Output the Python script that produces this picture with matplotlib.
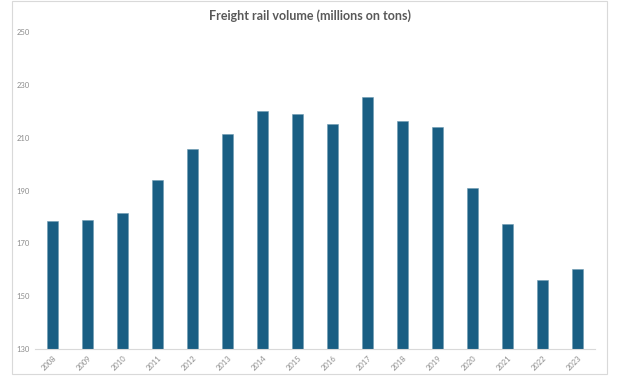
import numpy as np
import matplotlib.pyplot as plt
from matplotlib.patches import Rectangle

years = [str(y) for y in range(2008, 2024)]
volume = [178.5, 178.9, 181.5, 194.0, 205.8, 211.4, 220.2, 219.1,
          215.2, 225.5, 216.4, 214.1, 191.0, 177.3, 156.1, 160.3]
yticks = [130, 150, 170, 190, 210, 230, 250]

plt.rcParams['font.family'] = ['Lato', 'DejaVu Sans']

fig = plt.figure(figsize=(6.35, 3.92), dpi=100)
ax = fig.add_axes([35 / 635, 1 - 349 / 392, 560 / 635, (349 - 32) / 392])

x = np.arange(len(years))
ax.bar(x, volume, width=0.34, color='#195E83', edgecolor='#6d9bb3', linewidth=0.4)

ax.set_ylim(130, 250)
ax.set_xlim(-0.5, len(years) - 0.5)
ax.set_yticks(yticks)
ax.set_yticklabels([str(v) for v in yticks], fontsize=5.5, color='#8c8c8c')
ax.set_xticks(x)
ax.set_xticklabels(years, rotation=45, fontsize=5.5, color='#8c8c8c', ha='right',
                   rotation_mode='anchor')
ax.tick_params(length=0, pad=4)

for s in ['top', 'right', 'left']:
    ax.spines[s].set_visible(False)
ax.spines['bottom'].set_color('#d9d9d9')
ax.spines['bottom'].set_linewidth(0.8)

fig.text(310 / 635, 1 - 16 / 392, 'Freight rail volume (millions on tons)',
         ha='center', va='center', fontsize=9, fontweight='bold', color='#595959')

fig.patches.append(Rectangle((12 / 635, 1 - 374 / 392), 595 / 635, 373 / 392,
                             transform=fig.transFigure, fill=False,
                             edgecolor='#d9d9d9', linewidth=0.8))

fig.savefig('out.png', dpi=100)
